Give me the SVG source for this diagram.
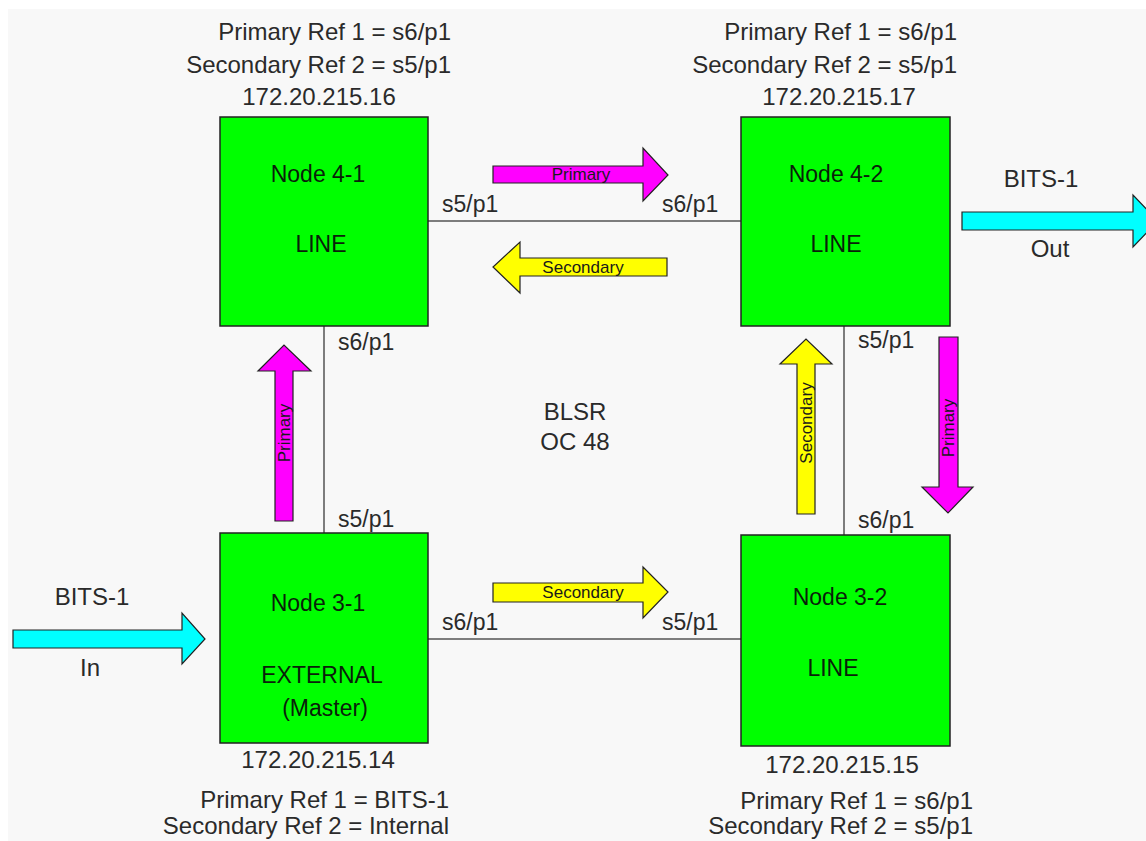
<svg xmlns="http://www.w3.org/2000/svg" width="1146" height="841" viewBox="0 0 1146 841">
  <style>
    text { font-family: "Liberation Sans", Arial, sans-serif; fill: #2a2a2a; }
    .info { font-size: 24px; }
    .port { font-size: 23px; }
    .node rect { fill: #00ff00; stroke: #222; stroke-width: 1.5; }
    .node text { font-size: 23px; fill: #0a1f0a; text-anchor: middle; }
    .link { stroke: #555; stroke-width: 1.5; fill: none; }
    .flow { stroke: #222; stroke-width: 1.2; stroke-linejoin: miter; }
    .pri { fill: #ff00ff; }
    .sec { fill: #ffff00; }
    .bits { fill: #00ffff; }
    .flow-label { font-size: 17px; fill: #1a1a1a; text-anchor: middle; }
  </style>

  <rect x="0" y="0" width="1146" height="841" fill="#ffffff"/>
  <rect x="8" y="9" width="1138" height="832" fill="#f8f8f8"/>

  <!-- ring links between nodes -->
  <g id="connectors">
    <line class="link" x1="428" y1="221" x2="741" y2="221"/>
    <line class="link" x1="428" y1="639" x2="741" y2="639"/>
    <line class="link" x1="324" y1="326" x2="324" y2="533"/>
    <line class="link" x1="844" y1="326" x2="844" y2="535"/>
  </g>

  <!-- timing flow arrows -->
  <g id="flows">
    <polygon class="flow pri" points="493,166 643,166 643,148 668,175 643,201 643,183 493,183"/>
    <text class="flow-label" x="581" y="180">Primary</text>

    <polygon class="flow sec" points="667,258 520,258 520,242 493,267 520,293 520,276 667,276"/>
    <text class="flow-label" x="583" y="273">Secondary</text>

    <polygon class="flow sec" points="493,583 643,583 643,567 668,592 643,618 643,602 493,602"/>
    <text class="flow-label" x="583" y="598">Secondary</text>

    <polygon class="flow pri" points="275,521 275,371 258,371 284,345 311,371 293,371 293,521"/>
    <text class="flow-label" transform="translate(290,433) rotate(-90)">Primary</text>

    <polygon class="flow sec" points="797,514 797,364 780,364 806,339 832,364 815,364 815,514"/>
    <text class="flow-label" transform="translate(812,423) rotate(-90)">Secondary</text>

    <polygon class="flow pri" points="939,337 958,337 958,487 973,487 948,513 922,487 939,487"/>
    <text class="flow-label" transform="translate(954,428) rotate(-90)">Primary</text>

    <polygon class="flow bits" points="13,630 182,630 182,613 205,639 182,664 182,648 13,648"/>
    <polygon class="flow bits" points="962,212 1133,212 1133,195 1158,221 1133,247 1133,230 962,230"/>
  </g>

  <g id="node-4-1" class="node">
    <rect x="220" y="117" width="208" height="209"/>
    <text x="318" y="182">Node 4-1</text>
    <text x="321" y="252">LINE</text>
  </g>
  <g id="node-4-2" class="node">
    <rect x="741" y="117" width="209" height="209"/>
    <text x="836" y="182">Node 4-2</text>
    <text x="836" y="252">LINE</text>
  </g>
  <g id="node-3-1" class="node">
    <rect x="220" y="533" width="208" height="210"/>
    <text x="318" y="611">Node 3-1</text>
    <text x="322" y="683">EXTERNAL</text>
    <text x="325" y="716">(Master)</text>
  </g>
  <g id="node-3-2" class="node">
    <rect x="741" y="535" width="209" height="211"/>
    <text x="840" y="605">Node 3-2</text>
    <text x="833" y="676">LINE</text>
  </g>

  <!-- port labels -->
  <g class="port">
    <text x="442" y="212">s5/p1</text>
    <text x="662" y="212">s6/p1</text>
    <text x="442" y="630">s6/p1</text>
    <text x="662" y="630">s5/p1</text>
    <text x="338" y="350">s6/p1</text>
    <text x="338" y="527">s5/p1</text>
    <text x="858" y="348">s5/p1</text>
    <text x="858" y="528">s6/p1</text>
  </g>

  <!-- ring and BITS labels -->
  <g class="info" text-anchor="middle">
    <text x="575" y="420">BLSR</text>
    <text x="575" y="450">OC 48</text>
    <text x="92" y="605">BITS-1</text>
    <text x="90" y="676">In</text>
    <text x="1041" y="187">BITS-1</text>
    <text x="1050" y="257">Out</text>
  </g>

  <!-- timing references per node -->
  <g class="info">
    <text x="451" y="40" text-anchor="end">Primary Ref 1 = s6/p1</text>
    <text x="451" y="73" text-anchor="end">Secondary Ref 2 = s5/p1</text>
    <text x="319" y="105" text-anchor="middle">172.20.215.16</text>

    <text x="957" y="40" text-anchor="end">Primary Ref 1 = s6/p1</text>
    <text x="957" y="73" text-anchor="end">Secondary Ref 2 = s5/p1</text>
    <text x="839" y="105" text-anchor="middle">172.20.215.17</text>

    <text x="318" y="768" text-anchor="middle">172.20.215.14</text>
    <text x="449" y="808" text-anchor="end">Primary Ref 1 = BITS-1</text>
    <text x="449" y="834" text-anchor="end">Secondary Ref 2 = Internal</text>

    <text x="842" y="773" text-anchor="middle">172.20.215.15</text>
    <text x="973" y="809" text-anchor="end">Primary Ref 1 = s6/p1</text>
    <text x="973" y="834" text-anchor="end">Secondary Ref 2 = s5/p1</text>
  </g>
</svg>
